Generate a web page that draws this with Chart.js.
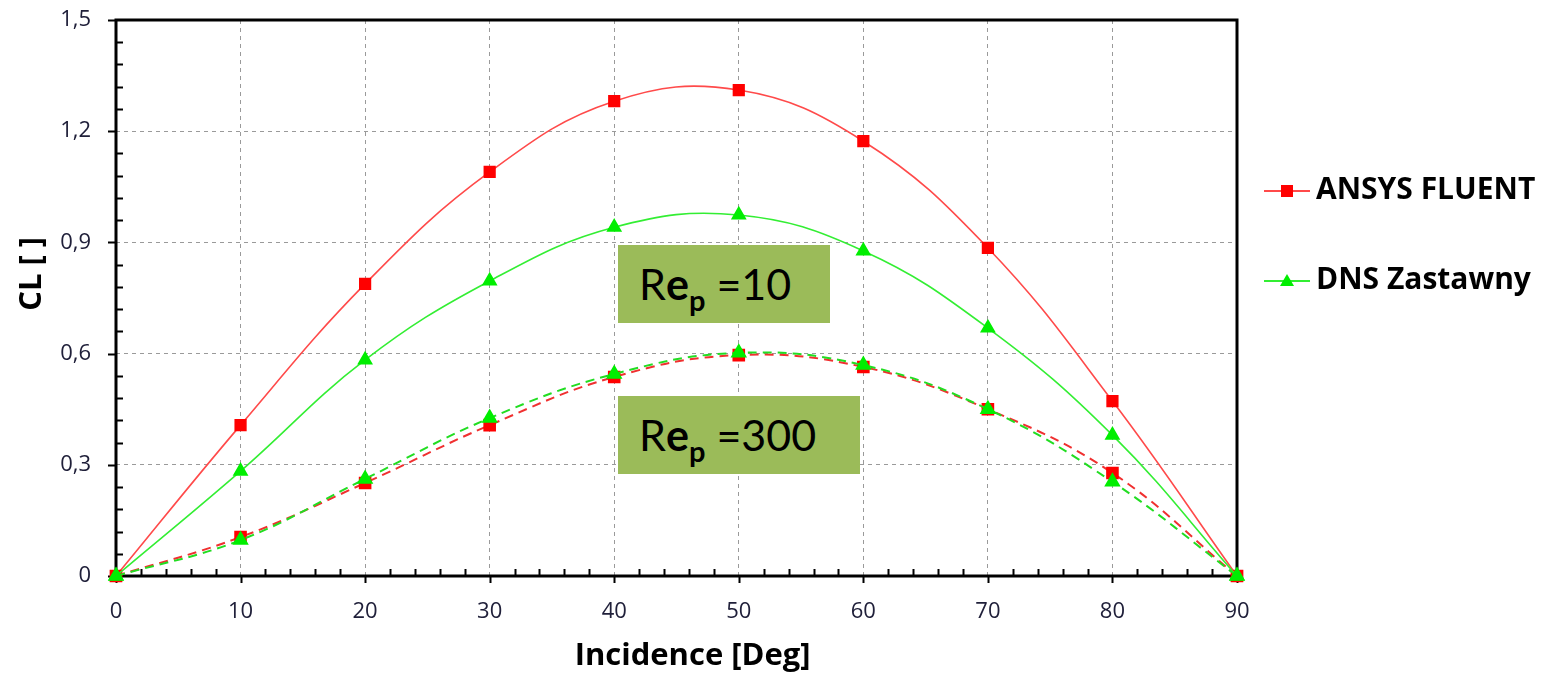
<!DOCTYPE html>
<html><head><meta charset="utf-8">
<script src="https://cdn.jsdelivr.net/npm/chart.js@4.4.0/dist/chart.umd.min.js"></script>
<style>
html,body{margin:0;padding:0;background:#fff;}
#wrap{position:relative;width:1558px;height:677px;}
canvas{position:absolute;left:0;top:0;}
.box{position:absolute;background:#9BBB59;font-family:Lato,"Open Sans",sans-serif;font-size:43px;color:#000;line-height:1;}
.box .t{position:absolute;left:21px;top:17px;white-space:nowrap;}
.box b{font-weight:bold;}
.box sub{font-weight:bold;font-size:29px;vertical-align:-11px;}
.leg{position:absolute;left:1262px;font-family:"Open Sans",Lato,sans-serif;font-weight:bold;font-size:30px;color:#000;white-space:nowrap;}
.leg canvas{position:static;vertical-align:middle;margin-right:4px;}
</style></head>
<body><div id="wrap">
<canvas id="c" width="1558" height="677"></canvas>
<div class="box" style="left:618px;top:245px;width:212px;height:78px;"><span class="t">R<b>e</b><sub>p</sub> =10</span></div>
<div class="box" style="left:618px;top:396px;width:242px;height:78px;"><span class="t">R<b>e</b><sub>p</sub> =300</span></div>
<div class="leg" id="leg1" style="top:167px;"></div>
<div class="leg" id="leg2" style="top:257px;"></div>
</div>
<script>
const incidence = [0,10,20,30,40,50,60,70,80,90];
const ansysRe10 = [0,0.407,0.788,1.090,1.281,1.311,1.173,0.885,0.472,0];
const dnsRe10   = [0,0.283,0.583,0.796,0.941,0.974,0.877,0.669,0.380,0];
const ansysRe300 = [0,0.105,0.251,0.407,0.537,0.596,0.564,0.450,0.278,0];
const dnsRe300   = [0,0.097,0.262,0.426,0.545,0.602,0.569,0.450,0.254,0];
const yTicks = [0,0.3,0.6,0.9,1.2,1.5];
const legendNames = ["ANSYS FLUENT","DNS Zastawny"];

const RED='#FF0000', REDL='#FF4A4A', GRN='#00EE00', GRNL='#33EE33';
const pts = arr => incidence.map((x,i)=>({x:x,y:arr[i]}));

const framePlugin = {
  id:'frame',
  beforeDatasetsDraw(chart){
    const {ctx, chartArea:a, scales:{x,y}} = chart;
    ctx.save();
    ctx.strokeStyle='#000';
    ctx.lineWidth=2;
    ctx.beginPath();
    for(let v=0; v<=1.5001; v+=0.06){
      const py=Math.round(y.getPixelForValue(v))+0.5;
      const major = Math.abs(v/0.3-Math.round(v/0.3))<1e-6;
      if(major){ctx.moveTo(a.left-8,py);ctx.lineTo(a.left,py);}
      else {ctx.moveTo(a.left,py);ctx.lineTo(a.left+7,py);}
    }
    for(let v=0; v<=90.001; v+=2){
      const px=Math.round(x.getPixelForValue(v))+0.5;
      const major = v%10===0;
      if(major){ctx.moveTo(px,a.bottom+7);ctx.lineTo(px,a.bottom);}
      else {ctx.moveTo(px,a.bottom);ctx.lineTo(px,a.bottom-7);}
    }
    ctx.stroke();
    ctx.lineWidth=3;
    ctx.strokeRect(a.left,a.top,a.right-a.left,a.bottom-a.top);
    ctx.restore();
  }
};

const ds = (label,data,color,line,style,dash,order)=>({
  label, data:pts(data), borderColor:line, backgroundColor:color,
  pointBackgroundColor:color, pointBorderColor:color, pointStyle:style,
  pointRadius:7.5, borderWidth: dash?2:1.6, borderDash: dash?[9,6]:[],
  tension:0.4, fill:false, order, clip:false
});

new Chart(document.getElementById('c'),{
  type:'line',
  data:{datasets:[
    ds(legendNames[0]+' Re10',ansysRe10,RED,REDL,'rect',false,4),
    ds(legendNames[0]+' Re300',ansysRe300,RED,'#F03030','rect',true,3),
    ds(legendNames[1]+' Re10',dnsRe10,GRN,GRNL,'triangle',false,2),
    ds(legendNames[1]+' Re300',dnsRe300,GRN,'#22DD22','triangle',true,1)
  ]},
  options:{
    responsive:false, animation:false, devicePixelRatio:1,
    layout:{padding:{top:20,right:321,left:0,bottom:0}},
    plugins:{legend:{display:false},tooltip:{enabled:false}},
    scales:{
      x:{type:'linear',min:0,max:90,
        afterFit(s){s.height=101;s.paddingLeft=0;s.paddingRight=0;},
        afterBuildTicks(s){s.ticks=incidence.map(v=>({value:v}));},
        grid:{color:'#9a9a9a',lineWidth:1,drawTicks:false},
        border:{display:false,dash:[4,4]},
        ticks:{padding:23,color:'#20203a',font:{family:'Open Sans',size:22},callback:v=>String(v)},
        title:{display:true,text:'    Incidence [Deg]',color:'#000',font:{family:'Open Sans',size:31,weight:'bold'},padding:{top:0,bottom:2}}
      },
      y:{type:'linear',min:0,max:1.5,
        afterFit(s){s.width=116;s.paddingTop=0;s.paddingBottom=0;},
        afterBuildTicks(s){s.ticks=yTicks.map(v=>({value:v}));},
        grid:{color:'#9a9a9a',lineWidth:1,drawTicks:false},
        border:{display:false,dash:[4,4]},
        ticks:{padding:25,color:'#20203a',font:{family:'Open Sans',size:22},
          callback:v=>v===0?'0':v.toFixed(1).replace('.',',')},
        title:{display:true,text:'      CL [ ]',color:'#000',font:{family:'Open Sans',size:31,weight:'bold'},padding:{top:14,bottom:0}}
      }
    }
  },
  plugins:[framePlugin]
});

function legIcon(id,name,line,fill,shape){
  const el=document.getElementById(id);
  const c=document.createElement('canvas'); c.width=50;c.height=20;
  const g=c.getContext('2d');
  g.strokeStyle=line;g.lineWidth=2;g.beginPath();g.moveTo(2,10);g.lineTo(48,10);g.stroke();
  g.fillStyle=fill;g.beginPath();
  if(shape==='rect'){g.rect(19,4,12,12);}else{g.moveTo(25,3);g.lineTo(32,15);g.lineTo(18,15);g.closePath();}
  g.fill();
  el.appendChild(c);
  el.appendChild(document.createTextNode(name));
}
legIcon('leg1',legendNames[0],REDL,RED,'rect');
legIcon('leg2',legendNames[1],GRNL,GRN,'triangle');
</script>
</body></html>
